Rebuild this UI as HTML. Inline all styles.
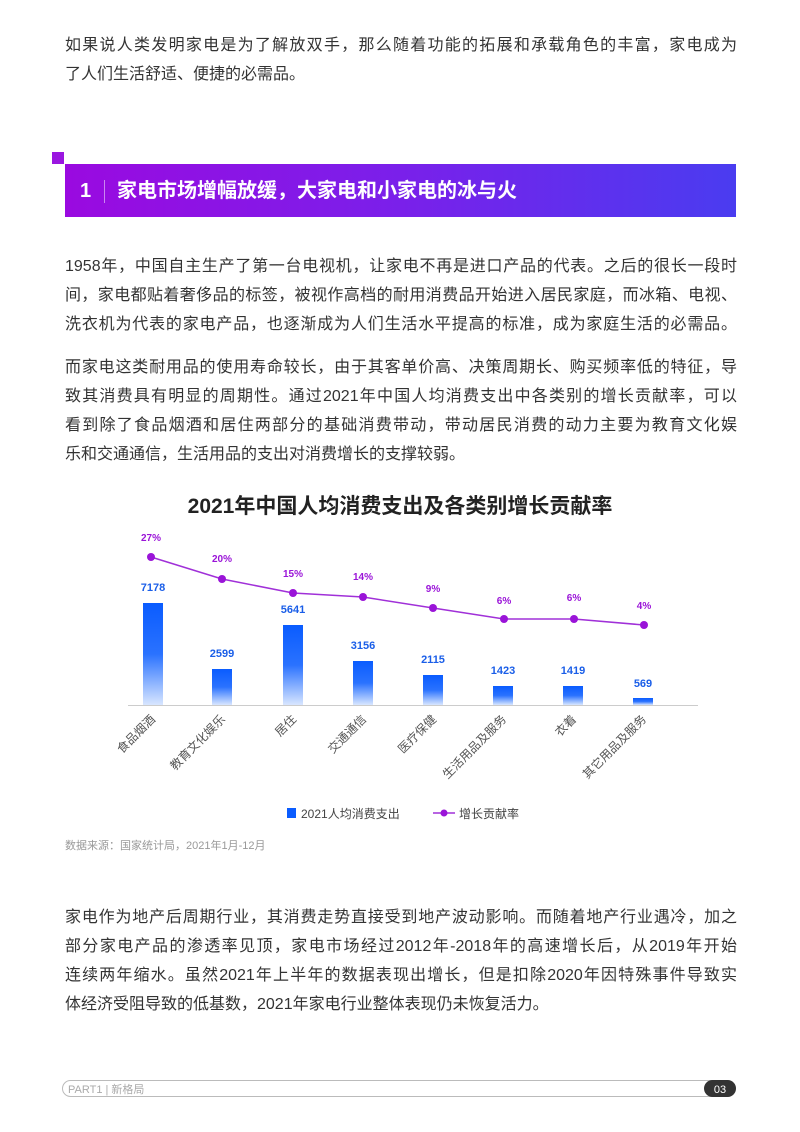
<!DOCTYPE html>
<html><head><meta charset="utf-8"><style>
*{margin:0;padding:0;box-sizing:border-box}
body{width:800px;height:1132px;background:#fff;position:relative;font-family:"Liberation Sans","Noto Sans CJK SC",sans-serif;color:#333;overflow:hidden}
.p{position:absolute;left:65px;width:672px;font-size:16px;line-height:29px}
.p div{text-align:justify;text-align-last:justify;height:29px;white-space:nowrap}
.p div.l{text-align-last:left}
</style></head><body>
<div class="p" style="top:31px"><div>如果说人类发明家电是为了解放双手，那么随着功能的拓展和承载角色的丰富，家电成为</div><div class="l">了人们生活舒适、便捷的必需品。</div></div>

<div style="position:absolute;left:52px;top:152px;width:12px;height:12px;background:#9a16e0"></div>
<div style="position:absolute;left:65px;top:164px;width:671px;height:53px;background:linear-gradient(90deg,#9a0ae0,#7a20ea 50%,#4a3cf0)"></div>
<div style="position:absolute;left:80px;top:176px;color:#fff;font-size:20px;font-weight:bold;line-height:30px">1</div>
<div style="position:absolute;left:104px;top:180px;width:1px;height:23px;background:rgba(255,255,255,.5)"></div>
<div style="position:absolute;left:117px;top:176px;color:#fff;font-size:20px;font-weight:bold;line-height:30px">家电市场增幅放缓，大家电和小家电的冰与火</div>

<div class="p" style="top:252px"><div>1958年，中国自主生产了第一台电视机，让家电不再是进口产品的代表。之后的很长一段时</div><div>间，家电都贴着奢侈品的标签，被视作高档的耐用消费品开始进入居民家庭，而冰箱、电视、</div><div>洗衣机为代表的家电产品，也逐渐成为人们生活水平提高的标准，成为家庭生活的必需品。</div></div>
<div class="p" style="top:353px"><div>而家电这类耐用品的使用寿命较长，由于其客单价高、决策周期长、购买频率低的特征，导</div><div>致其消费具有明显的周期性。通过2021年中国人均消费支出中各类别的增长贡献率，可以</div><div>看到除了食品烟酒和居住两部分的基础消费带动，带动居民消费的动力主要为教育文化娱</div><div class="l">乐和交通通信，生活用品的支出对消费增长的支撑较弱。</div></div>

<div style="position:absolute;left:0;width:800px;top:490px;text-align:center;font-size:21px;font-weight:bold;color:#222">2021年中国人均消费支出及各类别增长贡献率</div>

<svg style="position:absolute;left:0;top:0" width="800" height="1132">
<defs><linearGradient id="g" x1="0" y1="0" x2="0" y2="1"><stop offset="0" stop-color="#0a5cff"/><stop offset="0.5" stop-color="#2a72ff"/><stop offset="1" stop-color="#d8e6ff"/></linearGradient></defs>
<line x1="128" y1="705.5" x2="698" y2="705.5" stroke="#ccc" stroke-width="1"/>
<g fill="url(#g)">
<rect x="143" y="603" width="20" height="102"/>
<rect x="212" y="669" width="20" height="36"/>
<rect x="283" y="625" width="20" height="80"/>
<rect x="353" y="661" width="20" height="44"/>
<rect x="423" y="675" width="20" height="30"/>
<rect x="493" y="686" width="20" height="19"/>
<rect x="563" y="686" width="20" height="19"/>
<rect x="633" y="698" width="20" height="7"/>
</g>
<g font-size="11" font-weight="bold" fill="#1a5ee8" text-anchor="middle">
<text x="153" y="591">7178</text><text x="222" y="657">2599</text><text x="293" y="613">5641</text><text x="363" y="649">3156</text><text x="433" y="663">2115</text><text x="503" y="674">1423</text><text x="573" y="674">1419</text><text x="643" y="687">569</text>
</g>
<polyline points="151,557 222,579 293,593 363,597 433,608 504,619 574,619 644,625" fill="none" stroke="#a030d8" stroke-width="1.5"/>
<g fill="#9a14d8"><circle cx="151" cy="557" r="4"/><circle cx="222" cy="579" r="4"/><circle cx="293" cy="593" r="4"/><circle cx="363" cy="597" r="4"/><circle cx="433" cy="608" r="4"/><circle cx="504" cy="619" r="4"/><circle cx="574" cy="619" r="4"/><circle cx="644" cy="625" r="4"/></g>
<g font-size="10" font-weight="bold" fill="#9a14d8" text-anchor="middle">
<text x="151" y="541">27%</text><text x="222" y="562">20%</text><text x="293" y="577">15%</text><text x="363" y="580">14%</text><text x="433" y="592">9%</text><text x="504" y="604">6%</text><text x="574" y="601">6%</text><text x="644" y="609">4%</text>
</g>
<g font-size="12" fill="#555" text-anchor="end">
<text transform="translate(156,720) rotate(-45)">食品烟酒</text>
<text transform="translate(226,720) rotate(-45)">教育文化娱乐</text>
<text transform="translate(297,720) rotate(-45)">居住</text>
<text transform="translate(367,720) rotate(-45)">交通通信</text>
<text transform="translate(437,720) rotate(-45)">医疗保健</text>
<text transform="translate(507,720) rotate(-45)">生活用品及服务</text>
<text transform="translate(577,720) rotate(-45)">衣着</text>
<text transform="translate(647,720) rotate(-45)">其它用品及服务</text>
</g>
<rect x="287" y="808" width="9" height="10" fill="#0a5cff"/>
<text x="301" y="818" font-size="12" fill="#444">2021人均消费支出</text>
<line x1="433" y1="813" x2="455" y2="813" stroke="#a030d8" stroke-width="1.5"/><circle cx="444" cy="813" r="3.5" fill="#9a14d8"/>
<text x="459" y="818" font-size="12" fill="#444">增长贡献率</text>
<text x="65" y="849" font-size="11" fill="#999">数据来源：国家统计局，2021年1月-12月</text>
<rect x="62.5" y="1080.5" width="673" height="16" rx="8" fill="none" stroke="#bbb"/>
<rect x="704" y="1080" width="32" height="17" rx="8.5" fill="#333"/>
<text x="720" y="1093" font-size="11" fill="#fff" text-anchor="middle">03</text>
<text x="68" y="1093" font-size="11" fill="#aaa">PART1  |   新格局</text>
</svg>

<div class="p" style="top:903px"><div>家电作为地产后周期行业，其消费走势直接受到地产波动影响。而随着地产行业遇冷，加之</div><div>部分家电产品的渗透率见顶，家电市场经过2012年-2018年的高速增长后，从2019年开始</div><div>连续两年缩水。虽然2021年上半年的数据表现出增长，但是扣除2020年因特殊事件导致实</div><div class="l">体经济受阻导致的低基数，2021年家电行业整体表现仍未恢复活力。</div></div>
</body></html>
